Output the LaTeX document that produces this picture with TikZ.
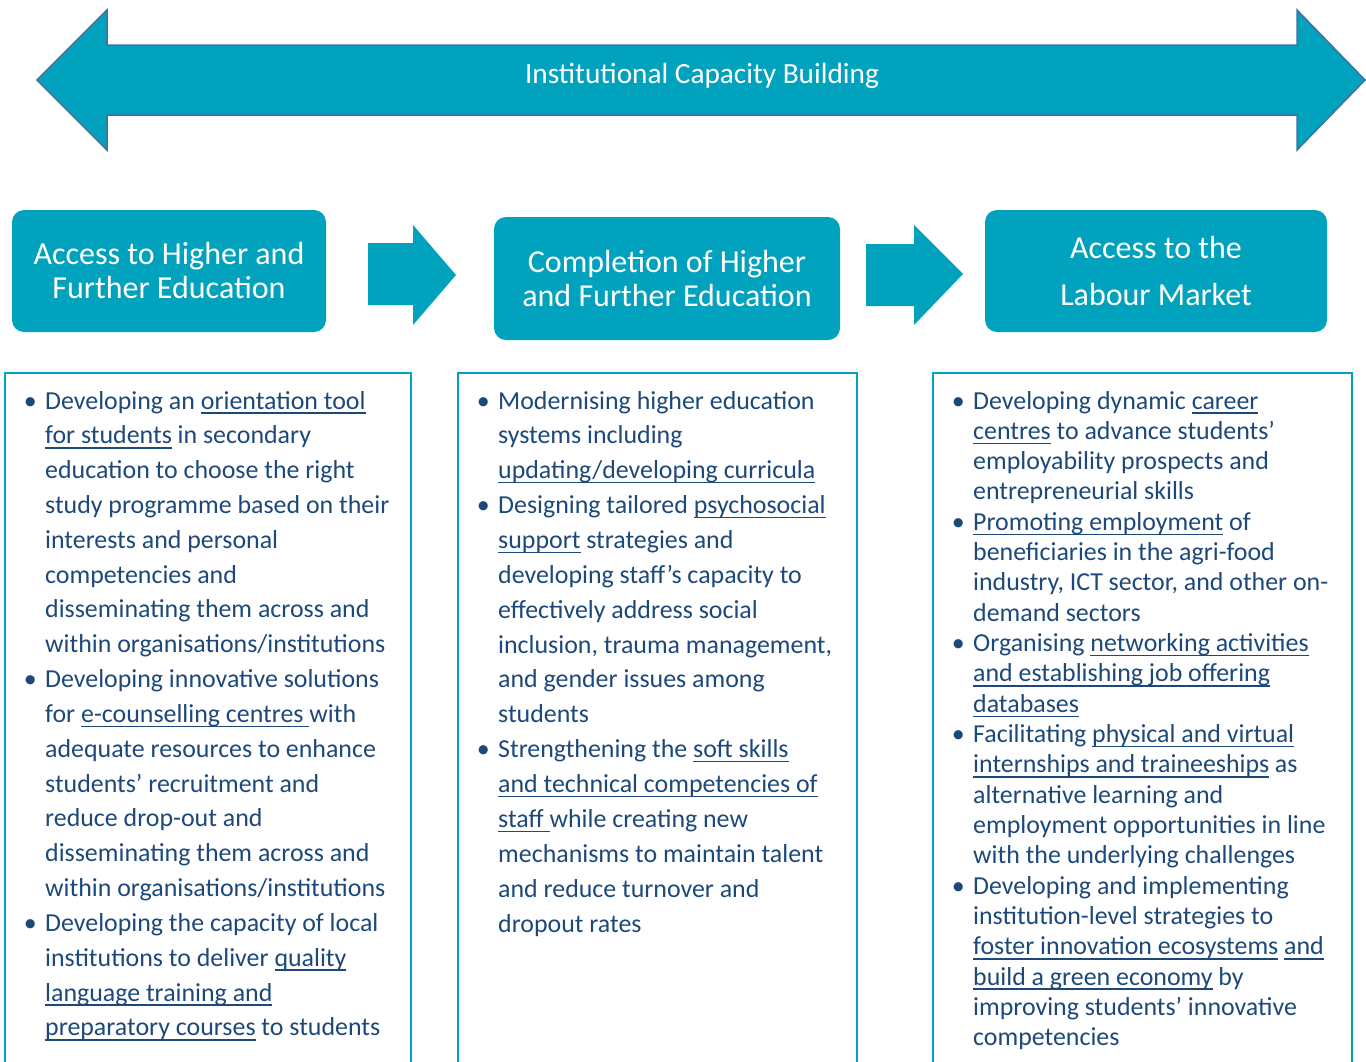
\documentclass[tikz,border=0pt]{standalone}
\usepackage{fontspec}
\setmainfont{Carlito}
\definecolor{teal1}{RGB}{0,162,189}
\definecolor{navy}{RGB}{28,72,122}
\definecolor{edgeblue}{RGB}{65,113,156}
\newcommand\bul{\leavevmode\llap{\textbullet\hspace{8.5pt}}}
\newcommand\un[1]{\leavevmode\setbox0=\hbox{#1}\rlap{\vrule width\wd0 height -3.2pt depth 4.7pt}\box0\relax}
\begin{document}
\begin{tikzpicture}[x=1pt,y=-1pt,
  titlebox/.style={fill=teal1, rounded corners=12pt, inner sep=0pt, text=white, align=center},
  coltext/.style={anchor=base west, inner sep=0pt, text=navy},
  frame/.style={draw=teal1, line width=2.6pt},
  blockarrow/.style={fill=teal1},
  bigarrow/.style={fill=teal1, draw=edgeblue, line width=1.5pt, line join=miter}]
\useasboundingbox (0,0) rectangle (1366,1061);

% big double arrow
\draw[bigarrow] (37,80) -- (107,10) -- (107,45) -- (1297,45) -- (1297,10) -- (1365,80)
  -- (1297,150) -- (1297,115) -- (107,115) -- (107,150) -- cycle;
\node[anchor=base, inner sep=0pt, text=white, font=\fontsize{29.3}{34}\selectfont] (icb) at (702,83) {Institutional Capacity Building};

% title boxes
\node[titlebox, minimum width=314pt, minimum height=122pt, font=\fontsize{32}{34}\selectfont] (b1) at (169,271)
  {Access to Higher and\\Further Education};
\node[titlebox, minimum width=346pt, minimum height=123pt, font=\fontsize{32}{34}\selectfont] (b2) at (667,278.5)
  {Completion of Higher\\and Further Education};
\node[titlebox, minimum width=342pt, minimum height=122pt, font=\fontsize{32}{47}\selectfont] (b3) at (1156,271)
  {Access to the\\ Labour Market};

% block arrows between boxes
\fill[blockarrow] (368,243) -- (413,243) -- (413,225) -- (456,275) -- (413,325) -- (413,305) -- (368,305) -- cycle;
\fill[blockarrow] (866,244) -- (914,244) -- (914,225) -- (963,274) -- (914,325) -- (914,306) -- (866,306) -- cycle;

% frames
\draw[frame] (5,1070) |- (411,373) -- (411,1070);
\draw[frame] (458,1070) |- (857,373) -- (857,1070);
\draw[frame] (933,1070) |- (1352,373) -- (1352,1070);

% column texts
\node[coltext] (ta) at (45,409) {\parbox[t]{400pt}{\fontsize{25.9}{34.83}\selectfont\raggedright
\bul Developing an \un{orientation tool}\\
\un{for students} in secondary\\
education to choose the right\\
study programme based on their\\
interests and personal\\
competencies and\\
disseminating them across and\\
within organisations/institutions\\
\bul Developing innovative solutions\\
for \un{e-counselling centres\ }with\\
adequate resources to enhance\\
students’ recruitment and\\
reduce drop-out and\\
disseminating them across and\\
within organisations/institutions\\
\bul Developing the capacity of local\\
institutions to deliver \un{quality}\\
\un{language training and}\\
\un{preparatory courses} to students}};

\node[coltext] (tb) at (498,409) {\parbox[t]{400pt}{\fontsize{25.9}{34.87}\selectfont\raggedright
\bul Modernising higher education\\
systems including\\
\un{updating/developing curricula}\\
\bul Designing tailored \un{psychosocial}\\
\un{support} strategies and\\
developing staff’s capacity to\\
effectively address social\\
inclusion, trauma management,\\
and gender issues among\\
students\\
\bul Strengthening the \un{soft skills}\\
\un{and technical competencies of}\\
\un{staff\ }while creating new\\
mechanisms to maintain talent\\
and reduce turnover and\\
dropout rates}};

\node[coltext] (tc) at (973,409) {\parbox[t]{400pt}{\fontsize{25.9}{30.33}\selectfont\raggedright
\bul Developing dynamic \un{career}\\
\un{centres} to advance students’\\
employability prospects and\\
entrepreneurial skills\\
\bul \un{Promoting employment} of\\
beneficiaries in the agri-food\\
industry, ICT sector, and other on-\\
demand sectors\\
\bul Organising \un{networking activities}\\
\un{and establishing job offering}\\
\un{databases}\\
\bul Facilitating \un{physical and virtual}\\
\un{internships and traineeships} as\\
alternative learning and\\
employment opportunities in line\\
with the underlying challenges\\
\bul Developing and implementing\\
institution-level strategies to\\
\un{foster innovation ecosystems} \un{and}\\
\un{build a green economy} by\\
improving students’ innovative\\
competencies}};
\end{tikzpicture}
\end{document}
